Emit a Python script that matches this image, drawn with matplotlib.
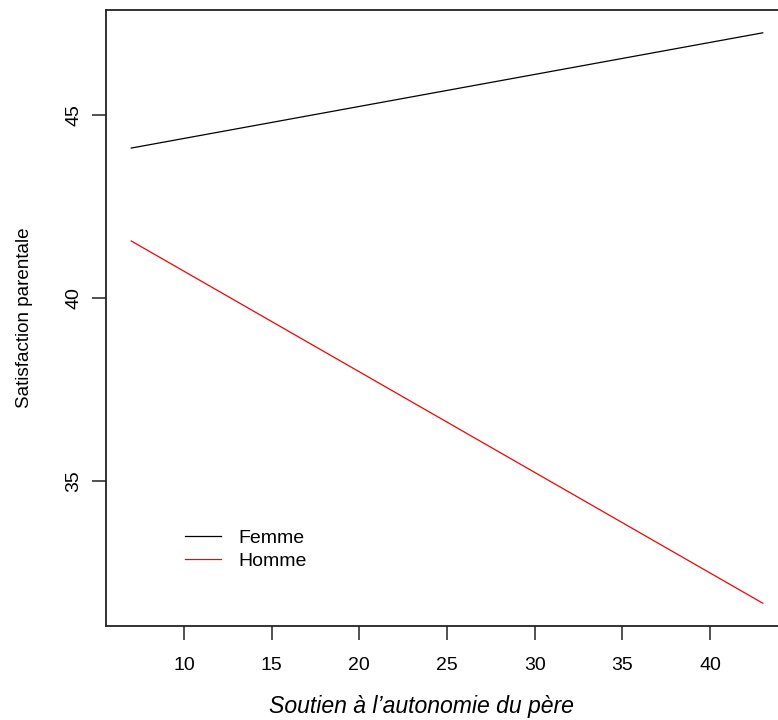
import matplotlib
matplotlib.use("Agg")
import matplotlib.pyplot as plt

# Predicted parental satisfaction by father's autonomy support, per gender
soutien = [7, 43]
femme = [44.10, 47.25]
homme = [41.56, 31.66]
groupes = ["Femme", "Homme"]
couleurs = ["black", "red"]
xticks = [10, 15, 20, 25, 30, 35, 40]
yticks = [35, 40, 45]

plt.rcParams["font.family"] = ["Liberation Sans", "DejaVu Sans"]

fig = plt.figure(figsize=(7.78, 7.2), dpi=100)
ax = fig.add_axes([106 / 778, 1 - 626 / 720, (788 - 106) / 778, (626 - 10) / 720])

for vals, lab, col in zip([femme, homme], groupes, couleurs):
    ax.plot(soutien, vals, color=col, lw=0.9, label=lab)

# R-style 4% padding around the data range
allx = soutien
ally = femme + homme
dx = (max(allx) - min(allx)) * 0.04
dy = (max(ally) - min(ally)) * 0.04
ax.set_xlim(min(allx) - dx, max(allx) + dx)
ax.set_ylim(min(ally) - dy, max(ally) + dy)

ax.set_xticks(xticks)
ax.set_yticks(yticks)
ax.tick_params(axis="both", length=10, width=1.1, labelsize=14, color="#222222")
ax.tick_params(axis="x", pad=12)
ax.tick_params(axis="y", pad=7)
for lbl in ax.get_yticklabels():
    lbl.set_rotation(90)
    lbl.set_va("center")
for sp in ax.spines.values():
    sp.set_linewidth(1.3)
    sp.set_color("#222222")

fig.text(421 / 778, 1 - 707 / 720, "Soutien à l\u2019autonomie du père", style="italic",
         fontsize=16.6, ha="center", va="center")
fig.text(25 / 778, 1 - 318 / 720, "Satisfaction parentale", rotation=90,
         fontsize=13.6, ha="center", va="center")

ax.legend(frameon=False, loc="upper left", bbox_to_anchor=(185 / 778, 1 - 529 / 720),
          bbox_transform=fig.transFigure, borderpad=0, borderaxespad=0,
          handlelength=1.85, handletextpad=0.9, labelspacing=0.28, fontsize=14)

fig.savefig("out.png", dpi=100)
